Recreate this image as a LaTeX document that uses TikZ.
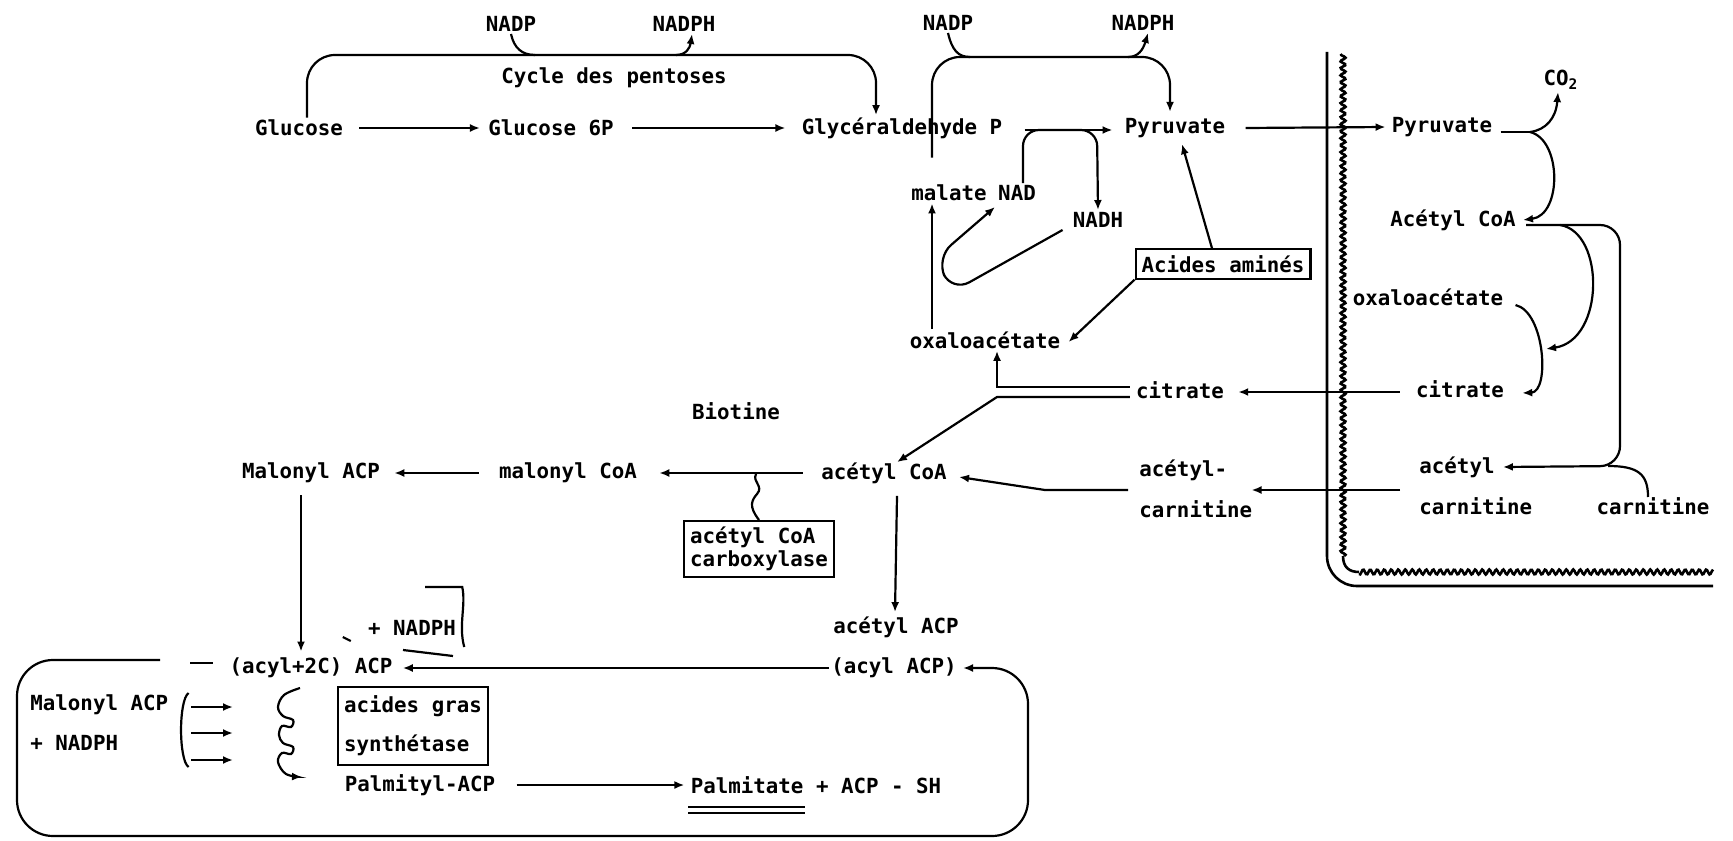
\documentclass[tikz,border=0pt]{standalone}
\usepackage{fontspec}
\usetikzlibrary{arrows.meta,positioning,calc}
\newfontfamily\typew{DejaVu Sans Mono}
\newcommand{\tyfont}{\typew\bfseries\fontsize{10.4}{11.5}\selectfont}

\begin{document}
\begin{tikzpicture}[x=0.5pt, y=-0.5pt,
  lbl/.style={font=\tyfont, inner sep=1pt},
  boxlbl/.style={lbl, draw, line width=1.1pt, inner sep=3pt, align=left},
  link/.style={line width=1.1pt},
  arrow/.style={link, -{Latex[length=5pt,width=4pt]}},
  membrane/.style={line width=1.3pt}
]
\fill[white] (0,0) rectangle (1733,840);
\useasboundingbox (0,0) rectangle (1733,840);
\node[lbl] (nadpA) at (511,24) {NADP};
\node[lbl] (nadphA) at (684,24) {NADPH};
\node[lbl] (nadpB) at (948,23) {NADP};
\node[lbl] (nadphB) at (1143,23) {NADPH};
\node[lbl] (pentoses) at (614,78) {Cycle des pentoses};
\node[lbl] (glucose) at (299,128) {Glucose};
\node[lbl] (gsixp) at (551,128) {Glucose 6P};
\node[lbl] (glyc) at (902,128) {Glycéraldehyde P};
\node[lbl] (pyr) at (1175,128) {Pyruvate};
\node[lbl] (malate) at (949,193) {malate};
\node[lbl] (nad) at (1017,193) {NAD};
\node[lbl] (nadh) at (1098,220) {NADH};
\node[boxlbl] (amines) at (1223,264) {Acides aminés};
\node[lbl] (oxa) at (985,340) {oxaloacétate};
\node[lbl] (cit) at (1180,390) {citrate};
\node[lbl] (biotine) at (736,411) {Biotine};
\node[lbl] (malacpA) at (311,473) {Malonyl ACP};
\node[lbl] (malcoa) at (568,473) {malonyl CoA};
\node[lbl] (accoa) at (884,473) {acétyl CoA};
\node[boxlbl] (acc) at (759,549) {acétyl CoA\\carboxylase};
\node[lbl, anchor=west] (acetA) at (1137,470) {acétyl-};
\node[lbl, anchor=west] (carnA) at (1137,509) {carnitine};
\node[lbl] (pyrR) at (1442,127) {Pyruvate};
\node[lbl] (co2) at (1561,80) {CO\textsubscript{2}};
\node[lbl] (accoaR) at (1453,220) {Acétyl CoA};
\node[lbl] (oxaR) at (1428,297) {oxaloacétate};
\node[lbl] (citR) at (1460,389) {citrate};
\node[lbl, anchor=west] (acetR) at (1417,467) {acétyl};
\node[lbl, anchor=west] (carnR) at (1417,506) {carnitine};
\node[lbl] (carnRR) at (1653,506) {carnitine};
\node[lbl] (acacp) at (896,627) {acétyl ACP};
\node[lbl] (acylacp) at (894,668) {(acyl ACP)};
\node[lbl] (acyltwo) at (311,668) {(acyl+2C) ACP};
\node[lbl] (nadphC) at (412,628) {+ NADPH};
\node[lbl, anchor=west] (malacpB) at (28,705) {Malonyl ACP};
\node[lbl, anchor=west] (nadphD) at (28,743) {+ NADPH};
\node[boxlbl, minimum height=39pt] (ags) at (413,726) {acides gras\\[8pt]synthétase};
\node[lbl] (palmacp) at (420,785) {Palmityl-ACP};
\node[lbl] (palm) at (816,785) {Palmitate + ACP - SH};
\draw[arrow, rounded corners=14pt] ($(glucose.north)+(8,0)$) -- (307,55) -- (876,55) -- ($(glyc.north)+(-26,0)$);
\draw[link] (nadpA.south) .. controls (514,48) and (522,55) .. (535,55);
\draw[arrow] (676,55) .. controls (686,55) and (690,48) .. ($(nadphA.south)+(8,0)$);
\draw[arrow] ($(glucose.east)+(14,0)$) -- ($(gsixp.west)+(-6,0)$);
\draw[arrow] ($(gsixp.east)+(16,0)$) -- ($(glyc.west)+(-14,0)$);
\draw[arrow] ($(glyc.east)+(20,2)$) -- ($(pyr.west)+(-10,2)$);
\draw[arrow, rounded corners=8pt] ($(nad.north)+(6,0)$) -- (1023,130) -- (1097,130) -- (nadh.north);
\draw[arrow, rounded corners=14pt] ($(malate.north)+(-17,-25)$) -- (932,57) -- (1170,57) -- ($(pyr.north)+(-5,-4)$);
\draw[link] (nadpB.south) .. controls (952,50) and (958,57) .. (970,57);
\draw[arrow] (1128,57) .. controls (1138,57) and (1143,50) .. ($(nadphB.south)+(5,0)$);
\draw[arrow] ($(oxa.north)+(-53,0)$) -- ($(malate.south)+(-17,0)$);
\draw[arrow, rounded corners=10pt] ($(nadh.south west)+(-8,0)$) -- (952,292) -- (936,258) -- ($(nad.south)+(-22,4)$);
\draw[arrow] ($(amines.north)+(-11,0)$) -- ($(pyr.south)+(7,4)$);
\draw[arrow] (amines.south west) -- ($(oxa.east)+(6,2)$);
\draw[arrow] ($(cit.west)+(-4,-3)$) -- (997,387) -- ($(oxa.south)+(12,0)$);
\draw[arrow] ($(cit.west)+(-4,7)$) -- (997,397) -- ($(accoa.north)+(13,2)$);
\draw[arrow] ($(accoa.west)+(-16,0)$) -- ($(malcoa.east)+(20,0)$);
\draw[arrow] ($(malcoa.west)+(-18,0)$) -- ($(malacpA.east)+(12,0)$);
\draw[link] (acc.north) .. controls (748,506) and (752,500) .. (757,494) .. controls (764,486) and (752,482) .. (756,474);
\draw[arrow] ($(acetA.west)+(-9,20)$) -- (1045,490) -- ($(accoa.east)+(10,4)$);
\draw[arrow] ($(accoa.south)+(13,10)$) -- ($(acacp.north)+(-1,-2)$);
\draw[arrow] (acylacp.west) -- ($(acyltwo.east)+(8,0)$);
\draw[arrow, rounded corners=18pt] ($(acyltwo.west)+(-67,-8)$) -- (17,660) -- (17,836) -- (1028,836) -- (1028,668) -- ($(acylacp.east)+(4,0)$);
\draw[link] ($(acyltwo.west)+(-37,-5)$) -- ($(acyltwo.west)+(-14,-5)$);
\draw[arrow] ($(malacpA.south)+(-10,10)$) -- ($(acyltwo.north)+(-10,-4)$);
\draw[link] ($(nadphC.east)+(-33,-41)$) -- ($(nadphC.east)+(4,-41)$) .. controls ($(nadphC.east)+(8,-23)$) and ($(nadphC.east)+(0,-3)$) .. ($(nadphC.east)+(6,19)$);
\draw[link] ($(nadphC.west)+(-23,9)$) -- ($(nadphC.west)+(-15,13)$);
\draw[link] (403,650) -- (453,656);
\draw[link] ($(malacpB.east)+(18,-12)$) .. controls ($(malacpB.east)+(8,-5)$) and ($(malacpB.east)+(8,55)$) .. ($(malacpB.east)+(18,62)$);
\foreach \yy in {707,733,760}
  \draw[arrow] (191,\yy) -- (233,\yy);
\draw[arrow] plot[smooth, tension=0.6] coordinates {(300,688) (284,695) (278,707) (283,716) (293,720) (291,727) (282,726) (279,735) (283,743) (293,747) (291,754) (282,753) (278,762) (286,774) (302,777)};
\draw[arrow] ($(palmacp.east)+(19,0)$) -- ($(palm.west)+(-4,0)$);
\draw[line width=0.9pt] ($(palm.west)+(0,22)$) -- ($(palm.west)+(117,22)$);
\draw[line width=0.9pt] ($(palm.west)+(0,28)$) -- ($(palm.west)+(117,28)$);
\draw[membrane, rounded corners=15pt] (1327,52) -- (1327,586) -- (1713,586);
\draw[membrane] plot[domain=54:556, samples=400] ({1343+2.5*sin(mod(\x,7)*51.43)}, \x);
\draw[membrane] (1343,556) .. controls (1343,568) and (1350,572) .. (1359,572);
\draw[membrane] plot[domain=1359:1713, samples=300] (\x, {572+2.5*sin(mod(\x,7)*51.43)});
\draw[arrow] ($(pyr.east)+(18,0)$) -- ($(pyrR.west)+(-4,0)$);
\draw[link] ($(pyrR.east)+(6,5)$) -- (1530,132);
\draw[arrow] (1530,132) .. controls (1546,130) and (1556,118) .. ($(co2.south)+(-3,0)$);
\draw[arrow] (1530,132) .. controls (1562,140) and (1562,215) .. ($(accoaR.east)+(5,0)$);
\draw[arrow, rounded corners=10pt] ($(accoaR.east)+(8,5)$) -- (1620,225) -- (1620,466) -- ($(acetR.east)+(6,0)$);
\draw[arrow] (1560,225) .. controls (1605,232) and (1605,340) .. (1546,349);
\draw[arrow] ($(oxaR.east)+(10,8)$) .. controls (1545,312) and (1550,392) .. ($(citR.east)+(16,4)$);
\draw[link] (1608,466) .. controls (1638,466) and (1648,474) .. ($(carnRR.north)+(-5,2)$);
\draw[arrow] ($(citR.west)+(-14,3)$) -- ($(cit.east)+(12,2)$);
\draw[arrow] ($(carnR.west)+(-17,-16)$) -- ($(carnA.east)+(-3,-19)$);
\end{tikzpicture}
\end{document}
